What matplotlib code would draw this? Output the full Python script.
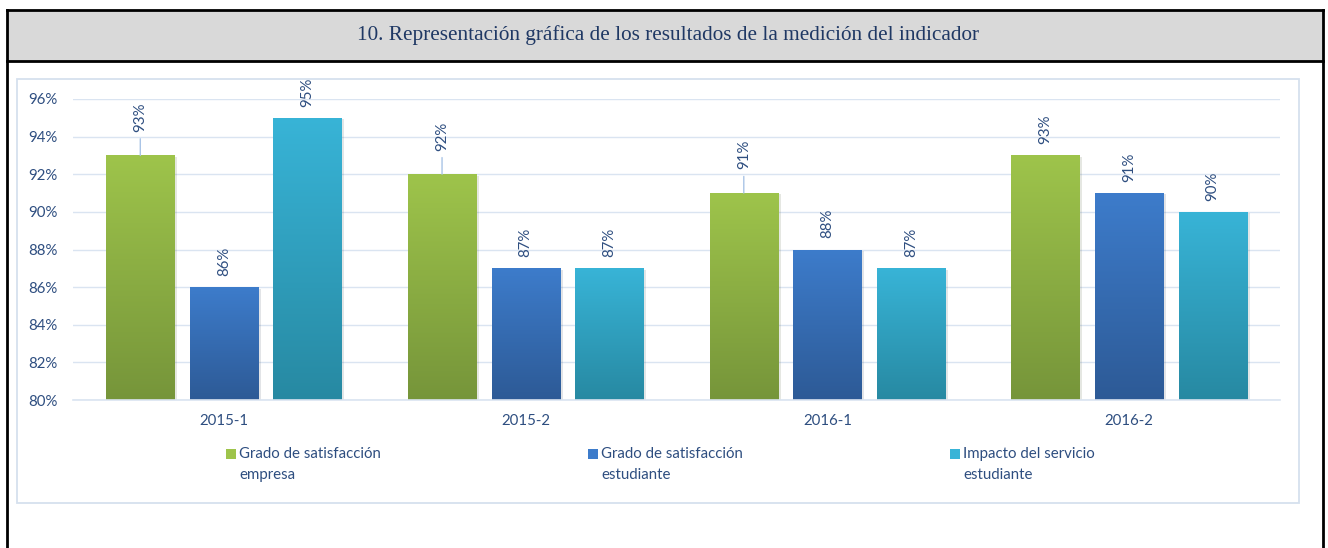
import numpy as np
import matplotlib
matplotlib.use("Agg")
import matplotlib.pyplot as plt
from matplotlib.patches import Rectangle
from matplotlib.colors import LinearSegmentedColormap
from matplotlib import patheffects as pe

plt.rcParams['font.family'] = ['Lato', 'DejaVu Sans']

periods = ["2015-1", "2015-2", "2016-1", "2016-2"]
series = ["Grado de satisfacción\nempresa",
          "Grado de satisfacción\nestudiante",
          "Impacto del servicio\nestudiante"]
values = [
    [93, 92, 91, 93],   # empresa
    [86, 87, 88, 91],   # estudiante
    [95, 87, 87, 90],   # impacto
]
title = "10. Representación gráfica de los resultados de la medición del indicador"

# (top, bottom) colours of each gradient
colors = [("#9EC44B", "#76953A"), ("#3D7CCB", "#2D5A96"), ("#38B4D7", "#2789A2")]
leaders = {(0, 0), (0, 1), (0, 2)}   # labels drawn with a leader line
text_col = "#2E4E80"
grid_col = "#DAE4F1"
fs = 10.8

W, H = 1328, 548
fig = plt.figure(figsize=(W / 100, H / 100), dpi=100)

def fx(x):
    return x / W

def fy(y):
    return 1 - y / H

# table frame + grey header
fig.add_artist(Rectangle((fx(7), fy(61)), fx(1323) - fx(7), fy(10) - fy(61),
                         facecolor="#D9D9D9", edgecolor="none", zorder=0))
for xs, ys in [([7, 1323], [10, 10]), ([7, 1323], [61, 61]),
               ([7, 7], [10, 548]), ([1323, 1323], [10, 548])]:
    fig.add_artist(plt.Line2D([fx(v) for v in xs], [fy(v) for v in ys],
                              color="black", lw=2, zorder=1))
fig.text(fx(668), fy(35), title, family="Liberation Serif", fontsize=15.3,
         color="#1F3864", ha="center", va="center")

# chart area border
fig.add_artist(Rectangle((fx(17), fy(503)), fx(1299) - fx(17), fy(79) - fy(503),
                         facecolor="none", edgecolor="#D5E0EE", lw=1.3, zorder=1))

ax = fig.add_axes([fx(73), fy(400), fx(1280) - fx(73), fy(99) - fy(400)])
x = np.arange(len(periods))
width = 0.226
step = 0.277

for i, (vals, (top, bot)) in enumerate(zip(values, colors)):
    cmap = LinearSegmentedColormap.from_list(f"g{i}", [bot, top])
    bars = ax.bar(x + (i - 1) * step, np.array(vals) - 80, width, bottom=80,
                  color=top, zorder=2,
                  path_effects=[pe.SimplePatchShadow(offset=(2, -1), alpha=0.12),
                                pe.Normal()])
    for j, b in enumerate(bars):
        x0, y0 = b.get_x(), b.get_y()
        im = ax.imshow(np.linspace(0, 1, 256).reshape(-1, 1), cmap=cmap,
                       origin="lower", aspect="auto", zorder=2.5,
                       extent=[x0, x0 + b.get_width(), y0, y0 + b.get_height()])
        im.set_clip_path(b)
        cx = x0 + b.get_width() / 2
        v = vals[j]
        if (i, j) in leaders:
            ax.annotate(f"{v}%", (cx, v), xytext=(0, 17), textcoords="offset points",
                        rotation=90, ha="center", va="bottom", fontsize=fs,
                        color=text_col, zorder=4,
                        arrowprops=dict(arrowstyle="-", color="#A9C4E6", lw=1,
                                        shrinkA=3, shrinkB=0))
        else:
            ax.annotate(f"{v}%", (cx, v), xytext=(0, 8), textcoords="offset points",
                        rotation=90, ha="center", va="bottom", fontsize=fs,
                        color=text_col, zorder=4)

ax.set_xlim(-0.5, len(periods) - 0.5)
ax.set_ylim(80, 96)
ax.set_yticks(np.arange(80, 97, 2))
ax.set_yticklabels([f"{t}%" for t in range(80, 97, 2)])
ax.set_xticks(x)
ax.set_xticklabels(periods)
ax.tick_params(axis="both", length=0, labelsize=fs, labelcolor=text_col)
ax.tick_params(axis="y", pad=11)
ax.tick_params(axis="x", pad=10)
ax.grid(axis="y", color=grid_col, lw=1, zorder=0)
ax.set_axisbelow(True)
for s in ["top", "left", "right"]:
    ax.spines[s].set_visible(False)
ax.spines["bottom"].set_color(grid_col)
ax.spines["bottom"].set_linewidth(1.2)

# legend
for k, (name, (top, bot)) in enumerate(zip(series, colors)):
    lx = 226 + k * 362
    fig.add_artist(Rectangle((fx(lx), fy(459)), fx(10), fy(449) - fy(459),
                             facecolor=top, edgecolor="none"))
    fig.text(fx(lx + 13), fy(447), name, fontsize=fs, color=text_col,
             ha="left", va="top", linespacing=1.6)

fig.savefig("out.png", dpi=100)
